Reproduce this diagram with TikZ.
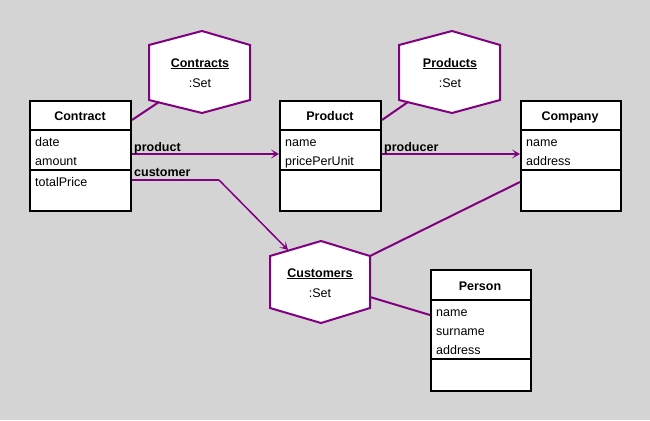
\documentclass[tikz,border=0pt]{standalone}
\usepackage{fontspec}
\setmainfont{Liberation Sans}
\usetikzlibrary{arrows.meta}
\definecolor{bg}{RGB}{212,212,212}
\definecolor{umlpurple}{RGB}{128,0,128}
\begin{document}
\begin{tikzpicture}[x=1pt,y=-1pt,
  font=\fontsize{12.5}{15}\selectfont,
  box/.style={draw=black, line width=2pt, fill=white, inner sep=0pt, anchor=north west},
  divider/.style={draw=black, line width=2pt},
  hexa/.style={draw=umlpurple, line width=2pt, fill=white, line join=miter},
  conn/.style={draw=umlpurple, line width=2pt},
  thinconn/.style={draw=umlpurple, line width=1.5pt},
  arr/.style={-{Stealth[length=8pt,width=9pt,inset=4pt]}},
  attr/.style={anchor=base west, inner sep=0pt},
  ctitle/.style={anchor=base, inner sep=0pt, font=\fontsize{12.5}{15}\selectfont\bfseries},
  htitle/.style={anchor=base, inner sep=0pt, font=\fontsize{12.5}{15}\selectfont\bfseries},
  htype/.style={anchor=base, inner sep=0pt},
  lab/.style={anchor=base west, inner sep=0pt, font=\fontsize{12.5}{15}\selectfont\bfseries}]
\fill[bg] (0,0) rectangle (650,420);
\useasboundingbox (0,0) rectangle (650,420);

% ---- class boxes
\node[box, minimum width=101pt, minimum height=110pt] (contract) at (29,100) {};
\draw[divider] (29,130) -- (130,130);
\draw[divider] (29,170) -- (130,170);
\node[ctitle] (contractT) at (80,120) {Contract};
\node[attr] (contractA1) at (35,146) {date};
\node[attr] (contractA2) at (35,165) {amount};
\node[attr] (contractM1) at (35,186) {totalPrice};

\node[box, minimum width=101pt, minimum height=110pt] (product) at (279,100) {};
\draw[divider] (279,130) -- (380,130);
\draw[divider] (279,170) -- (380,170);
\node[ctitle] (productT) at (330,120) {Product};
\node[attr] (productA1) at (285,146) {name};
\node[attr] (productA2) at (285,165) {pricePerUnit};

\node[box, minimum width=100pt, minimum height=110pt] (company) at (520,100) {};
\draw[divider] (520,130) -- (620,130);
\draw[divider] (520,170) -- (620,170);
\node[ctitle] (companyT) at (570,120) {Company};
\node[attr] (companyA1) at (526,146) {name};
\node[attr] (companyA2) at (526,165) {address};

\node[box, minimum width=100pt, minimum height=121pt] (person) at (430,269) {};
\draw[divider] (430,300) -- (530,300);
\draw[divider] (430,359) -- (530,359);
\node[ctitle] (personT) at (480,290) {Person};
\node[attr] (personA1) at (436,316) {name};
\node[attr] (personA2) at (436,335) {surname};
\node[attr] (personA3) at (436,354) {address};

% ---- hexagons (objects)
\draw[hexa] (149,45) -- (202,31) -- (250,45) -- (250,100) -- (202,113) -- (149,100) -- cycle;
\node[htitle] (contractsT) at (200,67) {\underline{Contracts}};
\node[htype] (contractsS) at (200,87) {:Set};
\coordinate (contractsLL) at (159,102);

\draw[hexa] (399,45) -- (452,31) -- (500,45) -- (500,100) -- (452,113) -- (399,100) -- cycle;
\node[htitle] (productsT) at (450,67) {\underline{Products}};
\node[htype] (productsS) at (450,87) {:Set};
\coordinate (productsLL) at (408,102);

\draw[hexa] (270,256) -- (321,241) -- (370,256) -- (370,308) -- (321,323) -- (270,308) -- cycle;
\node[htitle] (customersT) at (320,277) {\underline{Customers}};
\node[htype] (customersS) at (320,297) {:Set};
\coordinate (customersUL) at (288,250);
\coordinate (customersUR) at (370,256);
\coordinate (customersR) at (370,297);

% ---- connectors
\draw[conn] (contractsLL) -- ([yshift=-20pt]contract.north east);
\draw[conn] (productsLL) -- ([yshift=-20pt]product.north east);

\draw[conn,arr] ([yshift=-54pt]contract.north east) -- ([yshift=-54pt]product.north west);
\node[lab] (productL) at (134,151) {product};

\coordinate (custBend) at (219,180);
\draw[conn] ([yshift=-80pt]contract.north east) -- (custBend);
\draw[thinconn,arr] (custBend) -- (customersUL);
\node[lab] (customerL) at (134,176) {customer};

\draw[conn,arr] ([yshift=-54pt]product.north east) -- ([yshift=-54pt]company.north west);
\node[lab] (producerL) at (384,151) {producer};

\draw[conn] ([yshift=-82pt]company.north west) -- (customersUR);
\draw[conn] (customersR) -- ([yshift=-46pt]person.north west);
\end{tikzpicture}
\end{document}
